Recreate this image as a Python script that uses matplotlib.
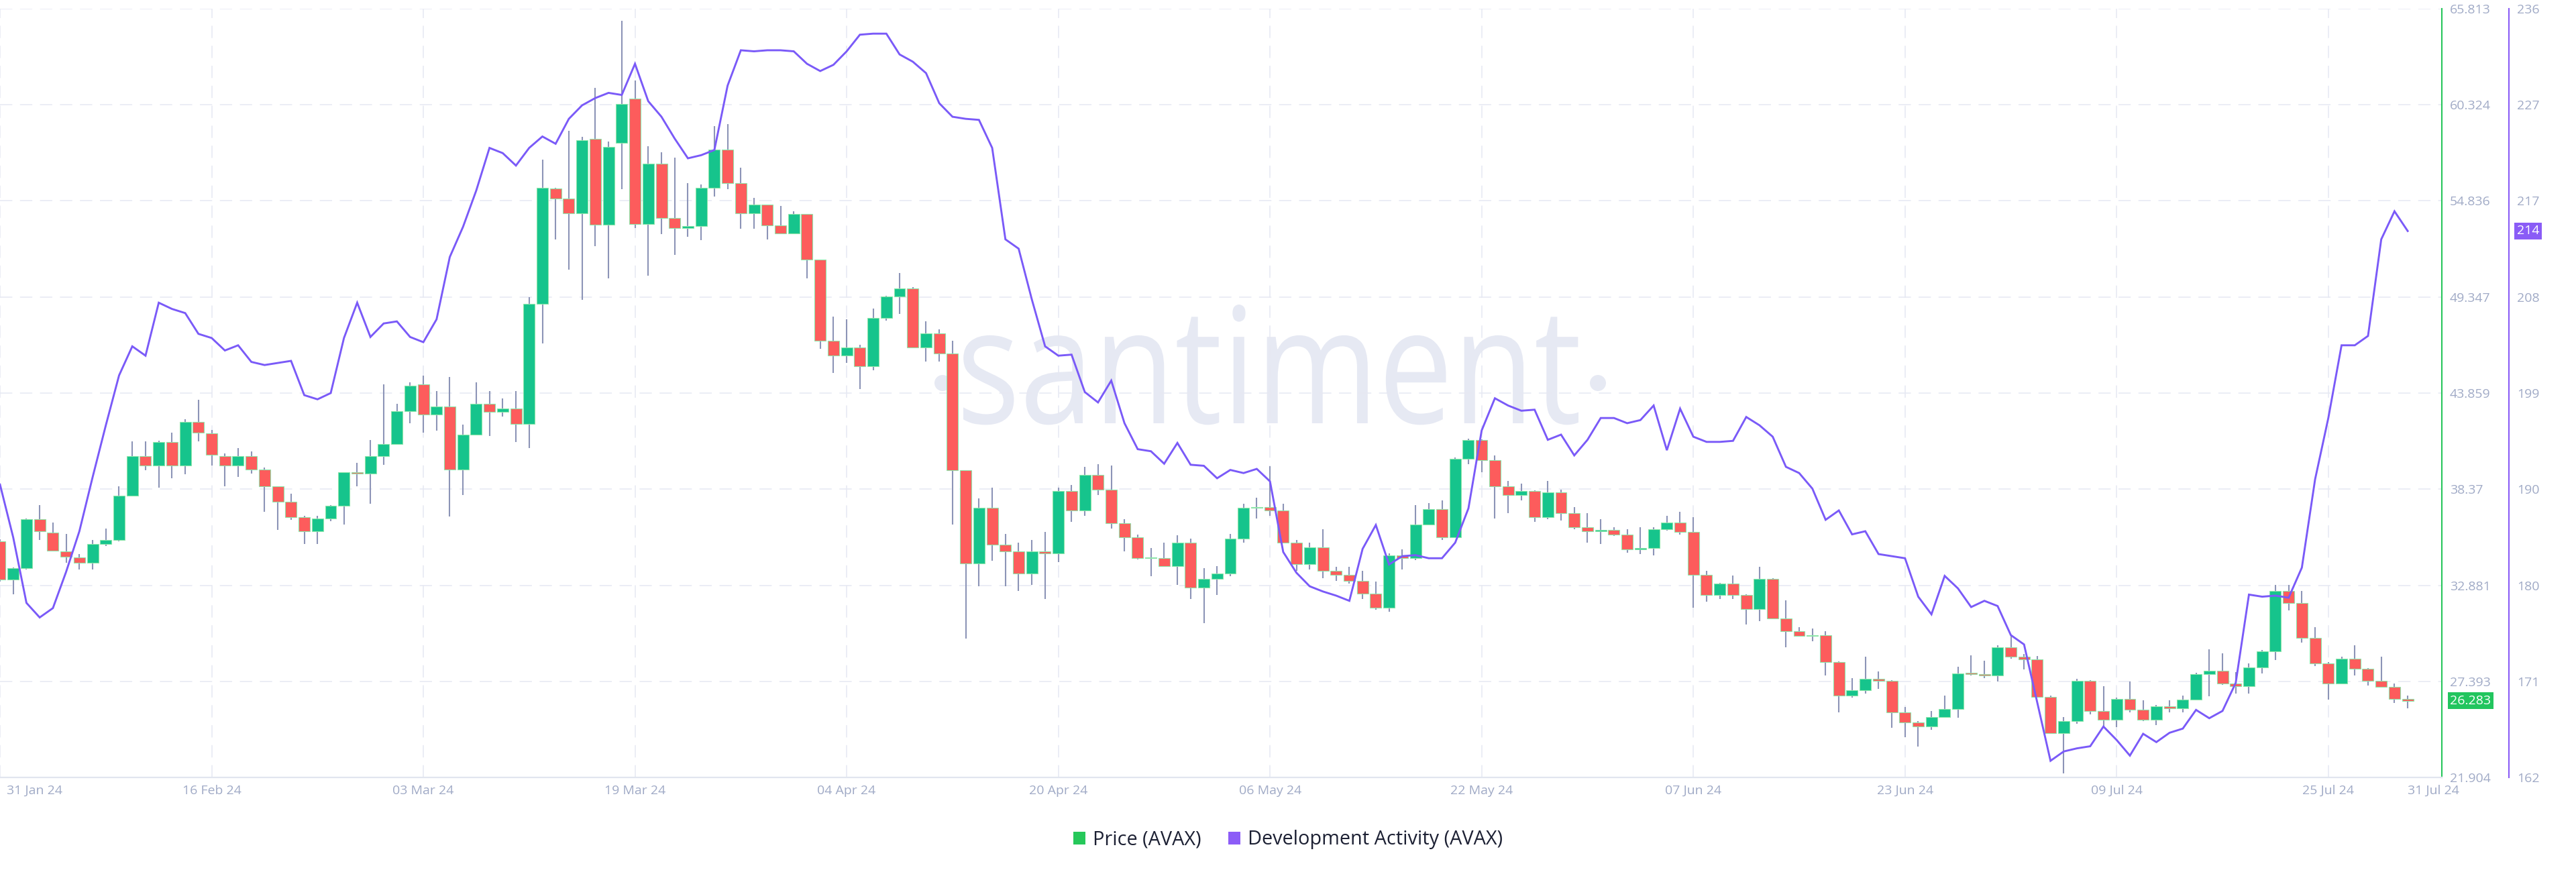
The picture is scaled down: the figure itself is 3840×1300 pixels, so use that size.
import matplotlib
matplotlib.use("Agg")
import matplotlib.pyplot as plt
import numpy as np
from matplotlib.textpath import TextPath
from matplotlib.patches import PathPatch, Circle, Patch
from matplotlib.font_manager import FontProperties
from matplotlib.transforms import Affine2D, IdentityTransform, blended_transform_factory

plt.rcParams['font.family'] = ['Open Sans', 'DejaVu Sans']

# daily AVAX candles, 31 Jan 24 .. 31 Jul 24
opens = [35.39, 33.19, 33.84, 36.65, 35.89, 34.81, 34.48, 34.16, 35.25, 35.45,
         38.00, 40.26, 39.73, 41.08, 39.73, 42.23, 41.55, 40.26, 39.73, 40.26,
         39.50, 38.53, 37.65, 36.77, 35.98, 36.71, 37.42, 39.32, 39.26, 40.26,
         40.94, 42.84, 44.34, 42.64, 43.08, 39.50, 41.47, 43.23, 42.79, 42.96,
         42.08, 48.97, 55.55, 54.96, 54.11, 58.39, 53.49, 58.16, 60.68, 53.52,
         56.95, 53.87, 53.29, 53.40, 55.60, 57.77, 55.84, 54.14, 54.61, 53.43,
         52.99, 54.08, 51.47, 46.86, 46.01, 46.45, 45.40, 48.15, 49.36, 49.85,
         46.48, 47.27, 46.10, 39.44, 34.13, 37.30, 35.19, 34.81, 33.54, 34.81,
         34.72, 38.27, 37.15, 39.18, 38.33, 36.42, 35.63, 34.42, 34.45, 33.98,
         35.33, 32.75, 33.25, 33.57, 35.54, 37.30, 37.36, 37.15, 35.33, 34.07,
         35.04, 33.72, 33.49, 33.13, 32.40, 31.58, 34.60, 34.45, 36.36, 37.24,
         35.63, 40.09, 41.17, 40.03, 38.53, 38.03, 38.27, 36.77, 38.18, 37.01,
         36.19, 35.98, 36.04, 35.78, 34.95, 35.01, 36.07, 36.48, 35.92, 33.49,
         32.31, 32.96, 32.31, 31.52, 33.25, 30.99, 30.26, 29.97, 30.02, 28.50,
         26.59, 26.89, 27.53, 27.42, 25.62, 25.04, 24.83, 25.36, 25.80, 27.85,
         27.82, 27.71, 29.32, 28.79, 28.65, 26.50, 24.45, 25.13, 27.42, 25.71,
         25.21, 26.39, 25.77, 25.21, 25.95, 25.86, 26.36, 27.82, 28.00, 27.27,
         27.12, 28.17, 29.09, 32.55, 31.87, 29.88, 28.41, 27.27, 28.70, 28.12,
         27.42, 27.09, 26.39]

closes = [33.19, 33.84, 36.65, 35.98, 34.86, 34.51, 34.16, 35.25, 35.45, 38.00,
          40.26, 39.73, 41.08, 39.73, 42.23, 41.61, 40.32, 39.73, 40.26, 39.50,
          38.53, 37.65, 36.77, 35.98, 36.71, 37.42, 39.32, 39.26, 40.26, 40.94,
          42.84, 44.28, 42.64, 43.08, 39.50, 41.47, 43.23, 42.79, 42.96, 42.08,
          48.97, 55.57, 54.96, 54.11, 58.30, 53.49, 57.92, 60.36, 53.52, 56.95,
          53.87, 53.29, 53.40, 55.60, 57.77, 55.84, 54.14, 54.61, 53.43, 52.99,
          54.08, 51.47, 46.86, 46.01, 46.45, 45.40, 48.15, 49.36, 49.85, 46.48,
          47.27, 46.10, 39.44, 34.13, 37.30, 35.19, 34.81, 33.54, 34.81, 34.72,
          38.27, 37.15, 39.18, 38.33, 36.42, 35.63, 34.42, 34.45, 33.98, 35.33,
          32.75, 33.25, 33.57, 35.54, 37.30, 37.36, 37.15, 35.33, 34.07, 35.04,
          33.72, 33.49, 33.13, 32.40, 31.58, 34.60, 34.45, 36.36, 37.24, 35.63,
          40.09, 41.17, 40.03, 38.53, 38.03, 38.27, 36.77, 38.18, 37.01, 36.19,
          35.98, 36.04, 35.78, 34.95, 35.01, 36.07, 36.48, 35.92, 33.49, 32.31,
          32.96, 32.31, 31.52, 33.25, 30.99, 30.26, 29.97, 30.02, 28.50, 26.59,
          26.89, 27.53, 27.42, 25.62, 25.04, 24.83, 25.36, 25.80, 27.85, 27.82,
          27.71, 29.32, 28.79, 28.65, 26.50, 24.45, 25.13, 27.42, 25.71, 25.21,
          26.39, 25.77, 25.21, 25.95, 25.86, 26.36, 27.82, 28.00, 27.27, 27.12,
          28.17, 29.09, 32.55, 31.87, 29.88, 28.41, 27.27, 28.70, 28.12, 27.42,
          27.09, 26.39, 26.283]

highs = [35.50, 33.90, 36.71, 37.45, 36.48, 35.83, 34.66, 35.45, 36.13, 38.53,
         41.11, 41.11, 41.12, 41.61, 42.35, 43.46, 41.76, 40.41, 40.70, 40.53,
         39.59, 38.55, 38.12, 36.86, 36.86, 37.45, 39.35, 39.88, 41.17, 44.34,
         43.26, 44.49, 44.84, 43.96, 44.78, 42.06, 44.49, 43.96, 43.55, 43.96,
         49.33, 57.19, 55.57, 58.83, 58.48, 61.30, 58.24, 65.11, 61.73, 57.95,
         57.63, 57.31, 55.87, 55.78, 59.09, 59.24, 56.72, 54.99, 54.63, 54.55,
         54.26, 54.10, 51.50, 48.24, 48.09, 46.60, 48.68, 49.41, 50.71, 49.91,
         47.95, 47.48, 46.83, 39.45, 37.83, 38.47, 35.83, 35.30, 35.48, 35.92,
         38.47, 38.62, 39.65, 39.79, 39.73, 36.65, 35.77, 35.01, 35.33, 35.74,
         35.54, 33.84, 33.98, 35.83, 37.53, 37.89, 39.70, 37.53, 35.48, 35.30,
         36.07, 33.93, 33.93, 33.72, 33.10, 34.72, 34.95, 37.45, 37.59, 37.74,
         40.17, 41.26, 41.20, 40.29, 38.85, 38.68, 38.30, 38.85, 38.33, 37.36,
         37.01, 36.65, 36.19, 36.07, 36.19, 36.19, 36.86, 37.09, 36.77, 33.69,
         33.00, 33.43, 32.35, 33.93, 33.30, 32.02, 30.49, 30.41, 30.26, 28.52,
         27.56, 28.79, 27.97, 27.45, 25.92, 25.12, 25.71, 26.59, 28.21, 28.88,
         28.56, 29.44, 30.05, 28.94, 28.85, 26.59, 25.36, 27.53, 27.45, 27.12,
         26.45, 27.39, 26.30, 26.06, 26.30, 26.59, 27.88, 29.23, 29.00, 27.91,
         28.41, 29.17, 32.90, 32.90, 32.55, 30.49, 28.50, 28.79, 29.47, 28.15,
         28.79, 27.27, 26.59]

lows = [33.10, 32.37, 33.80, 35.48, 34.80, 34.16, 33.78, 33.78, 35.13, 35.40,
        37.95, 39.44, 38.47, 39.00, 39.21, 41.11, 39.73, 38.53, 39.06, 39.26,
        37.06, 36.04, 36.62, 35.25, 35.25, 36.54, 36.36, 38.53, 37.53, 39.76,
        40.90, 42.14, 41.61, 41.70, 36.80, 38.03, 41.45, 41.41, 42.52, 41.05,
        40.73, 46.69, 52.64, 50.91, 49.18, 52.26, 50.41, 55.49, 53.29, 50.56,
        52.93, 51.76, 52.79, 52.58, 55.08, 55.49, 53.26, 53.26, 52.64, 52.93,
        52.93, 50.41, 46.39, 45.01, 45.57, 44.10, 45.16, 47.98, 48.39, 46.42,
        45.66, 45.66, 36.36, 29.82, 32.84, 34.28, 32.84, 32.55, 32.90, 32.08,
        34.22, 36.51, 36.86, 38.03, 36.13, 34.81, 34.37, 33.40, 33.93, 32.90,
        32.08, 30.70, 32.31, 33.40, 35.30, 36.71, 36.86, 35.30, 33.72, 33.78,
        33.28, 33.13, 32.96, 32.11, 31.49, 31.37, 33.78, 34.31, 36.33, 35.45,
        35.60, 39.79, 39.35, 36.71, 37.01, 37.74, 36.51, 36.65, 36.56, 36.07,
        35.33, 35.25, 35.69, 34.75, 34.66, 34.57, 36.00, 35.77, 31.58, 31.96,
        32.11, 32.11, 30.64, 30.85, 30.93, 29.32, 29.94, 29.67, 27.71, 25.62,
        26.45, 26.68, 26.97, 24.74, 24.19, 23.66, 24.63, 25.33, 25.33, 27.71,
        27.56, 27.39, 28.70, 28.06, 26.45, 24.39, 22.13, 24.98, 25.51, 24.77,
        24.77, 25.62, 25.13, 24.89, 25.62, 25.62, 26.30, 26.53, 27.18, 26.68,
        26.68, 27.85, 28.59, 31.43, 29.59, 28.26, 26.36, 27.24, 27.71, 27.15,
        27.03, 26.15, 25.86]

dev_activity = [190.2, 185.1, 178.8, 177.4, 178.3, 181.8, 185.7, 190.9, 195.9, 200.7,
                203.5, 202.6, 207.7, 207.1, 206.7, 204.7, 204.3, 203.1, 203.6, 202.0,
                201.7, 201.9, 202.1, 198.8, 198.4, 199.0, 204.3, 207.7, 204.4, 205.7,
                205.9, 204.4, 203.9, 206.1, 212.1, 215.0, 218.5, 222.6, 222.1, 220.9,
                222.6, 223.7, 223.0, 225.4, 226.7, 227.4, 227.9, 227.7, 230.7, 227.1,
                225.6, 223.5, 221.6, 221.9, 222.4, 228.6, 232.0, 231.9, 232.0, 232.0,
                231.9, 230.7, 230.0, 230.6, 231.9, 233.5, 233.6, 233.6, 231.6, 230.9,
                229.8, 226.9, 225.6, 225.4, 225.3, 222.6, 213.8, 212.9, 208.0, 203.5,
                202.6, 202.7, 199.1, 198.1, 200.2, 196.1, 193.6, 193.4, 192.2, 194.2,
                192.1, 192.0, 190.8, 191.6, 191.3, 191.7, 190.5, 183.7, 181.7, 180.4,
                179.9, 179.5, 179.0, 184.0, 186.3, 182.5, 183.3, 183.4, 183.1, 183.1,
                184.6, 187.9, 195.4, 198.5, 197.8, 197.3, 197.4, 194.5, 195.0, 193.0,
                194.5, 196.6, 196.6, 196.1, 196.4, 197.8, 193.5, 197.5, 194.8, 194.3,
                194.3, 194.4, 196.7, 195.9, 194.8, 191.9, 191.3, 189.8, 186.8, 187.7,
                185.4, 185.7, 183.5, 183.3, 183.1, 179.4, 177.7, 181.4, 180.2, 178.4,
                179.0, 178.5, 175.7, 174.8, 169.2, 163.6, 164.5, 164.8, 165.0, 166.9,
                165.6, 164.1, 166.2, 165.4, 166.3, 166.7, 168.5, 167.7, 168.4, 171.1,
                179.6, 179.4, 179.5, 179.3, 182.2, 190.7, 196.6, 203.6, 203.6, 204.5,
                213.8, 216.5, 214.6]

date_ticks = [0, 16, 32, 48, 64, 80, 96, 112, 128, 144, 160, 176, 182]
date_labels = ['31 Jan 24', '16 Feb 24', '03 Mar 24', '19 Mar 24', '04 Apr 24',
               '20 Apr 24', '06 May 24', '22 May 24', '07 Jun 24', '23 Jun 24',
               '09 Jul 24', '25 Jul 24', '31 Jul 24']

price_ticks = [21.904, 27.393, 32.881, 38.37, 43.859, 49.347, 54.836, 60.324, 65.813]
price_tick_labels = ['21.904', '27.393', '32.881', '38.37', '43.859', '49.347',
                     '54.836', '60.324', '65.813']
dev_ticks = [162, 171.25, 180.5, 189.75, 199, 208.25, 217.5, 226.75, 236]
dev_tick_labels = ['162', '171', '180', '190', '199', '208', '217', '227', '236']

GREEN = '#16C48C'
RED = '#FD5C5C'
PRICE_AXIS = '#26C65B'
DEV_AXIS = '#8A5CF6'
DEV_LINE = '#7A5AF8'
LABEL = '#A0AAC6'
GRID = '#E6E8F2'

fig = plt.figure(figsize=(38.4, 13), dpi=100)
ax = fig.add_axes([0, 141 / 1300, 3640 / 3840, 1146 / 1300])
ax.set_facecolor('none')

x = np.arange(len(closes))
o = np.array(opens)
c = np.array(closes)
up = c >= o
body_bottom = np.minimum(o, c)
body_height = np.maximum(np.abs(c - o), 0.06)
body_colors = [GREEN if u else RED for u in up]

ax.vlines(x, lows, highs, color='#8C94B7', linewidth=1.5, zorder=2)
ax.bar(x, body_height, bottom=body_bottom, width=0.86, color=body_colors,
       edgecolor='#8EE6AA', linewidth=0.8, zorder=3)

ax.set_xlim(0, 184.58)
ax.set_ylim(21.904, 65.813)
ax.set_xticks(date_ticks[:-1])
ax.tick_params(axis='x', length=0, labelbottom=False)
ax.set_axisbelow(True)
ax.grid(color=GRID, linewidth=1.1, linestyle=(0, (12, 7.5)))
for s in ['top', 'left']:
    ax.spines[s].set_visible(False)
ax.spines['right'].set_color(PRICE_AXIS)
ax.spines['right'].set_linewidth(1.5)
ax.spines['bottom'].set_color('#E1E5EF')
ax.spines['bottom'].set_linewidth(1.6)

# date labels
tb = blended_transform_factory(ax.transData, ax.transAxes)
for i, (d, lab) in enumerate(zip(date_ticks, date_labels)):
    if i == 0:
        ax.text(d + 0.5, -0.0175, lab, transform=tb, ha='left', va='center',
                fontsize=14, color=LABEL, clip_on=False)
    elif i == len(date_ticks) - 1:
        ax.text(d, -0.0175, lab, transform=tb, ha='left', va='center',
                fontsize=14, color=LABEL, clip_on=False)
    else:
        ax.text(d, -0.0175, lab, transform=tb, ha='center', va='center',
                fontsize=14, color=LABEL, clip_on=False)

# development activity on its own right axis
ax2 = ax.twinx()
ax2.set_facecolor('none')
ax2.plot(x, dev_activity, color=DEV_LINE, linewidth=2.1, zorder=5,
         solid_joinstyle='miter')
ax2.set_ylim(162, 236)
ax2.set_yticks(dev_ticks)
ax2.set_yticklabels(dev_tick_labels)
ax2.tick_params(axis='y', length=0, pad=8.6, labelsize=14, labelcolor=LABEL)
for s in ['top', 'left', 'bottom']:
    ax2.spines[s].set_visible(False)
ax2.spines['right'].set_position(('outward', 72))
ax2.spines['right'].set_color(DEV_AXIS)
ax2.spines['right'].set_linewidth(1.5)

# price ticks on the right (twinx moves them left, so set after)
ax.yaxis.tick_right()
ax.set_yticks(price_ticks)
ax.set_yticklabels(price_tick_labels)
ax.tick_params(axis='y', which='both', left=False, right=False, labelleft=False,
               labelright=True, length=0, pad=8.6, labelsize=14, labelcolor=LABEL)

# last value badges
tp_ = blended_transform_factory(ax.transAxes, ax.transData)
ax.text(1 + 12 / 3640, closes[-1], f'{closes[-1]:.3f}', transform=tp_,
        ha='left', va='center', fontsize=14, color='white', clip_on=False,
        zorder=10, bbox=dict(boxstyle='square,pad=0.18', fc='#22C55E', ec='none'))
td_ = blended_transform_factory(ax2.transAxes, ax2.transData)
ax2.text(1 + 112 / 3640, dev_activity[-1], str(int(dev_activity[-1])), transform=td_,
         ha='left', va='center', fontsize=14, color='white', clip_on=False,
         zorder=10, bbox=dict(boxstyle='square,pad=0.18', fc=DEV_AXIS, ec='none'))

# watermark
wm_color = '#E6E9F3'
tpath = TextPath((0, 0), 'santiment', size=100, prop=FontProperties(family='Open Sans'))
ext = tpath.get_extents()
sx = 917 / ext.width
sy = 177 / ext.y1
wm = PathPatch(tpath, fc=wm_color, ec='none', zorder=-1,
               transform=Affine2D().translate(-ext.x0, 0).scale(sx, sy).translate(1436, 669))
fig.add_artist(wm)
for cx in (1405, 2382):
    fig.add_artist(Circle((cx, 1300 - 571), 12, fc=wm_color, ec='none', zorder=-1,
                          transform=IdentityTransform()))

# legend
handles = [Patch(fc='#26C85A', ec='none'), Patch(fc='#8C5CF7', ec='none')]
fig.legend(handles, ['Price (AVAX)', 'Development Activity (AVAX)'], loc='center',
           bbox_to_anchor=(0.5, 48 / 1300), ncol=2, frameon=False, fontsize=20.8,
           handlelength=0.62, handleheight=0.62, handletextpad=0.38,
           columnspacing=1.42, labelcolor='#1C2033')

fig.savefig('out.png', dpi=100)
